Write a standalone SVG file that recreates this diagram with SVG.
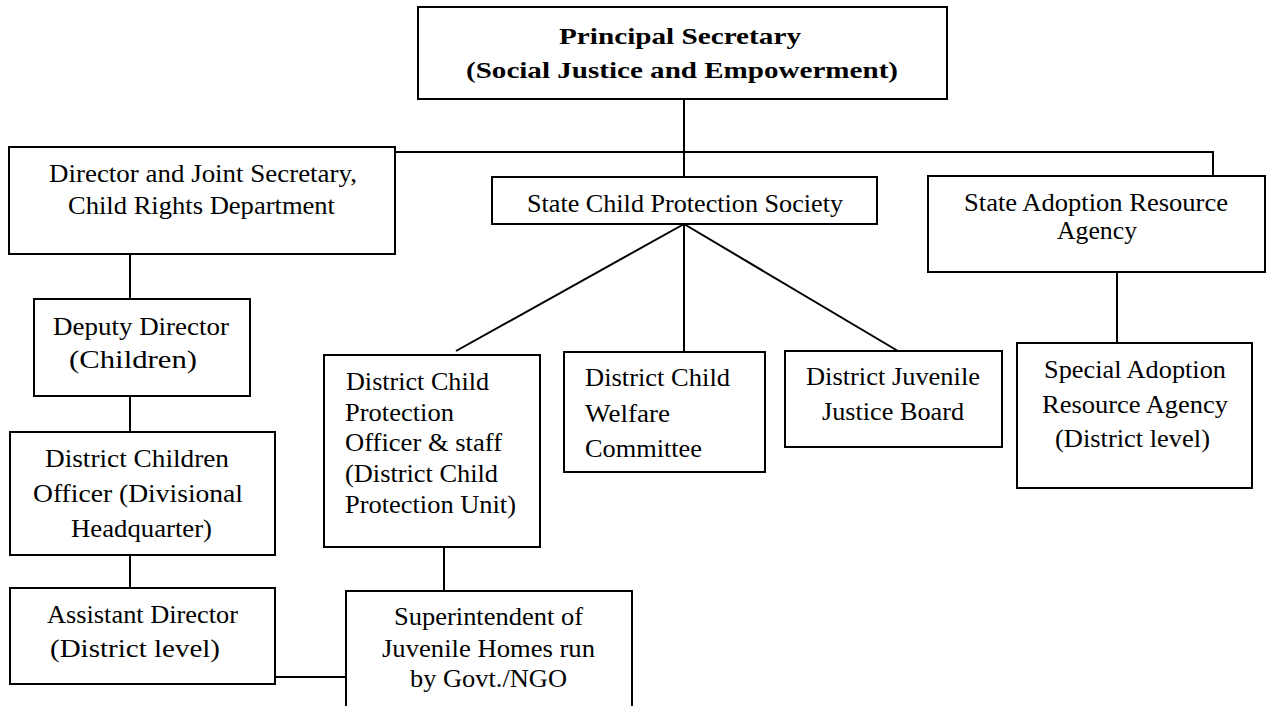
<svg xmlns="http://www.w3.org/2000/svg" width="1271" height="706" viewBox="0 0 1271 706">
<style>
.box{fill:#fff;stroke:#000;stroke-width:2}
.ln{stroke:#000;stroke-width:2;fill:none}
.t text{font-family:'Liberation Serif','Times New Roman',serif;font-size:26px;fill:#000}
.t .b{font-weight:bold;font-size:24px}
</style>
<rect width="1271" height="706" fill="#fff"/>
<g id="connectors">
<line class="ln" x1="684" y1="99" x2="684" y2="177"/>
<polyline class="ln" points="395,152 1213,152 1213,176"/>
<line class="ln" x1="130" y1="254" x2="130" y2="299"/>
<line class="ln" x1="130" y1="396" x2="130" y2="432"/>
<line class="ln" x1="130" y1="555" x2="130" y2="588"/>
<line class="ln" x1="275" y1="677" x2="346" y2="677"/>
<line class="ln" x1="684" y1="224" x2="456" y2="351"/>
<line class="ln" x1="684" y1="224" x2="684" y2="352"/>
<line class="ln" x1="684" y1="224" x2="898" y2="351"/>
<line class="ln" x1="444" y1="547" x2="444" y2="591"/>
<line class="ln" x1="1117" y1="272" x2="1117" y2="343"/>
</g>
<g class="t">
<g id="n-principal">
<rect class="box" x="418" y="7" width="529" height="92"/>
<text class="b" x="559" y="44" textLength="242" lengthAdjust="spacingAndGlyphs">Principal Secretary</text>
<text class="b" x="466" y="78" textLength="432" lengthAdjust="spacingAndGlyphs">(Social Justice and Empowerment)</text>
</g>
<g id="n-director">
<rect class="box" x="9" y="147" width="386" height="107"/>
<text x="49" y="182" textLength="308" lengthAdjust="spacingAndGlyphs">Director and Joint Secretary,</text>
<text x="68" y="214" textLength="267" lengthAdjust="spacingAndGlyphs">Child Rights Department</text>
</g>
<g id="n-scps">
<rect class="box" x="492" y="177" width="385" height="47"/>
<text x="527" y="212" textLength="316" lengthAdjust="spacingAndGlyphs">State Child Protection Society</text>
</g>
<g id="n-sara">
<rect class="box" x="928" y="176" width="337" height="96"/>
<text x="964" y="211" textLength="264" lengthAdjust="spacingAndGlyphs">State Adoption Resource</text>
<text x="1057" y="239" textLength="80" lengthAdjust="spacingAndGlyphs">Agency</text>
</g>
<g id="n-deputy">
<rect class="box" x="34" y="299" width="216" height="97"/>
<text x="53" y="335" textLength="176" lengthAdjust="spacingAndGlyphs">Deputy Director</text>
<text x="69" y="368" textLength="128" lengthAdjust="spacingAndGlyphs">(Children)</text>
</g>
<g id="n-dco">
<rect class="box" x="10" y="432" width="265" height="123"/>
<text x="45" y="467" textLength="184" lengthAdjust="spacingAndGlyphs">District Children</text>
<text x="33" y="502" textLength="210" lengthAdjust="spacingAndGlyphs">Officer (Divisional</text>
<text x="71" y="537" textLength="141" lengthAdjust="spacingAndGlyphs">Headquarter)</text>
</g>
<g id="n-ad">
<rect class="box" x="10" y="588" width="265" height="96"/>
<text x="47" y="623" textLength="191" lengthAdjust="spacingAndGlyphs">Assistant Director</text>
<text x="50" y="657" textLength="170" lengthAdjust="spacingAndGlyphs">(District level)</text>
</g>
<g id="n-dcpo">
<rect class="box" x="324" y="355" width="216" height="192"/>
<text x="346" y="390" textLength="143" lengthAdjust="spacingAndGlyphs">District Child</text>
<text x="345" y="421" textLength="109" lengthAdjust="spacingAndGlyphs">Protection</text>
<text x="345" y="451" textLength="157" lengthAdjust="spacingAndGlyphs">Officer &amp; staff</text>
<text x="345" y="482" textLength="153" lengthAdjust="spacingAndGlyphs">(District Child</text>
<text x="345" y="513" textLength="171" lengthAdjust="spacingAndGlyphs">Protection Unit)</text>
</g>
<g id="n-dcwc">
<rect class="box" x="564" y="352" width="201" height="120"/>
<text x="585" y="386" textLength="145" lengthAdjust="spacingAndGlyphs">District Child</text>
<text x="585" y="422" textLength="85" lengthAdjust="spacingAndGlyphs">Welfare</text>
<text x="585" y="457" textLength="117" lengthAdjust="spacingAndGlyphs">Committee</text>
</g>
<g id="n-djjb">
<rect class="box" x="785" y="351" width="217" height="96"/>
<text x="806" y="385" textLength="174" lengthAdjust="spacingAndGlyphs">District Juvenile</text>
<text x="822" y="420" textLength="142" lengthAdjust="spacingAndGlyphs">Justice Board</text>
</g>
<g id="n-special">
<rect class="box" x="1017" y="343" width="235" height="145"/>
<text x="1044" y="378" textLength="182" lengthAdjust="spacingAndGlyphs">Special Adoption</text>
<text x="1042" y="413" textLength="186" lengthAdjust="spacingAndGlyphs">Resource Agency</text>
<text x="1055" y="447" textLength="155" lengthAdjust="spacingAndGlyphs">(District level)</text>
</g>
<g id="n-super">
<rect class="box" x="346" y="591" width="286" height="130"/>
<text x="394" y="625" textLength="189" lengthAdjust="spacingAndGlyphs">Superintendent of</text>
<text x="382" y="657" textLength="213" lengthAdjust="spacingAndGlyphs">Juvenile Homes run</text>
<text x="410" y="687" textLength="157" lengthAdjust="spacingAndGlyphs">by Govt./NGO</text>
</g>
</g>
</svg>
